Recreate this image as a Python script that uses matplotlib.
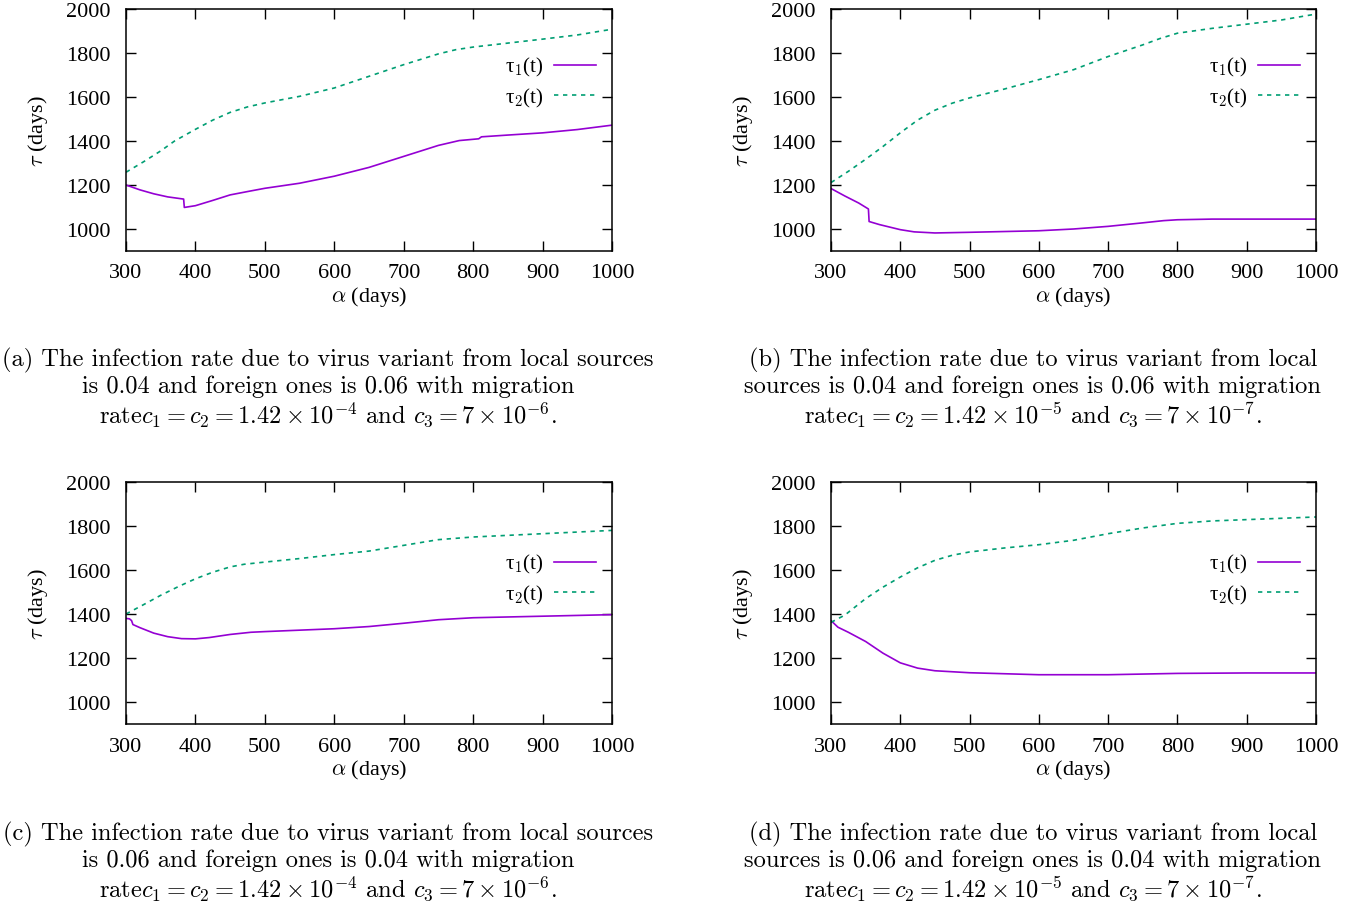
import matplotlib
matplotlib.use("Agg")
import matplotlib.pyplot as plt

plt.rcParams['mathtext.fontset'] = 'cm'
plt.rcParams['font.family'] = ['Liberation Serif', 'DejaVu Serif']

# ---- data ----
# (a)
a_x1 = [300, 320, 340, 360, 383, 384, 400, 425, 450, 478, 500, 550, 600, 650, 700, 750, 780, 808, 812, 850, 900, 950, 1000]
a_t1 = [1200, 1178, 1160, 1146, 1136, 1098, 1106, 1130, 1155, 1172, 1185, 1208, 1240, 1280, 1330, 1380, 1402, 1410, 1419, 1427, 1437, 1452, 1472]
a_x2 = [300, 325, 350, 370, 400, 425, 450, 475, 500, 550, 600, 650, 700, 750, 775, 800, 850, 900, 950, 1000]
a_t2 = [1258, 1305, 1355, 1400, 1453, 1495, 1530, 1555, 1573, 1603, 1641, 1694, 1747, 1796, 1815, 1827, 1845, 1863, 1882, 1908]

# (b)
b_x1 = [300, 320, 340, 354, 355, 370, 400, 420, 450, 500, 600, 650, 700, 750, 780, 800, 850, 900, 1000]
b_t1 = [1184, 1150, 1118, 1091, 1034, 1020, 997, 987, 982, 985, 992, 1000, 1012, 1028, 1038, 1042, 1045, 1045, 1045]
b_x2 = [300, 325, 350, 375, 400, 425, 450, 475, 500, 550, 600, 650, 700, 750, 775, 800, 850, 900, 950, 1000]
b_t2 = [1211, 1262, 1317, 1375, 1437, 1495, 1540, 1572, 1596, 1636, 1679, 1724, 1784, 1837, 1866, 1890, 1912, 1931, 1950, 1977]

# (c)
c_x1 = [300, 305, 308, 310, 320, 340, 360, 380, 400, 420, 450, 480, 500, 600, 650, 700, 750, 800, 900, 1000]
c_t1 = [1380, 1378, 1370, 1352, 1338, 1313, 1297, 1288, 1287, 1293, 1307, 1317, 1320, 1333, 1343, 1358, 1374, 1383, 1390, 1397]
c_x2 = [300, 325, 350, 375, 400, 425, 450, 470, 500, 550, 600, 650, 700, 750, 800, 900, 1000]
c_t2 = [1400, 1442, 1485, 1524, 1560, 1590, 1614, 1626, 1636, 1652, 1670, 1686, 1712, 1738, 1750, 1765, 1780]

# (d)
d_x1 = [300, 310, 325, 350, 375, 400, 425, 450, 500, 600, 700, 800, 900, 1000]
d_t1 = [1370, 1340, 1317, 1275, 1222, 1178, 1154, 1142, 1133, 1124, 1124, 1130, 1132, 1132]
d_x2 = [300, 320, 350, 375, 400, 425, 450, 475, 500, 550, 600, 650, 700, 750, 800, 850, 900, 1000]
d_t2 = [1362, 1395, 1470, 1522, 1568, 1610, 1644, 1667, 1682, 1700, 1715, 1735, 1765, 1791, 1812, 1823, 1829, 1841]

captions = [
    "(a) The infection rate due to virus variant from local sources\n"
    "is 0.04 and foreign ones is 0.06 with migration\n"
    r"rate$c_1 = c_2 = 1.42 \times 10^{-4}$ and $c_3 = 7 \times 10^{-6}$.",
    "(b) The infection rate due to virus variant from local\n"
    "sources is 0.04 and foreign ones is 0.06 with migration\n"
    r"rate$c_1 = c_2 = 1.42 \times 10^{-5}$ and $c_3 = 7 \times 10^{-7}$.",
    "(c) The infection rate due to virus variant from local sources\n"
    "is 0.06 and foreign ones is 0.04 with migration\n"
    r"rate$c_1 = c_2 = 1.42 \times 10^{-4}$ and $c_3 = 7 \times 10^{-6}$.",
    "(d) The infection rate due to virus variant from local\n"
    "sources is 0.06 and foreign ones is 0.04 with migration\n"
    r"rate$c_1 = c_2 = 1.42 \times 10^{-5}$ and $c_3 = 7 \times 10^{-7}$.",
]

panels = [
    (a_x1, a_t1, a_x2, a_t2),
    (b_x1, b_t1, b_x2, b_t2),
    (c_x1, c_t1, c_x2, c_t2),
    (d_x1, d_t1, d_x2, d_t2),
]

PURPLE = '#9400d3'
GREEN = '#009e73'

fig = plt.figure(figsize=(13.65, 9.04), dpi=100)

W, H = 1365.0, 904.0
# axes boxes in pixels: left, top, right, bottom
boxes = [(126, 10, 612, 252), (831, 10, 1316, 252),
         (126, 483, 612, 725), (831, 483, 1316, 725)]
legend_y = [0.698, 0.698, 0.599, 0.599]
caption_pos = [(328, 348), (1033, 348), (328, 822), (1033, 822)]


def draw_panel(ax, x1, t1, x2, t2, ly):
    ax.plot(x1, t1, color=PURPLE, lw=1.2, label=r'τ$_1$(t)')
    ax.plot(x2, t2, color=GREEN, lw=1.2, linestyle=(0, (2.6, 2.8)), label=r'τ$_2$(t)')
    ax.set_xlim(300, 1000)
    ax.set_ylim(900, 2000)
    ax.set_xticks(range(300, 1001, 100))
    ax.set_yticks(range(1000, 2001, 200))
    ax.tick_params(direction='in', length=7, width=1.0, labelsize=16,
                   top=True, right=True)
    ax.tick_params(axis='x', pad=9)
    ax.tick_params(axis='y', pad=11)
    for s in ax.spines.values():
        s.set_linewidth(1.1)
    ax.set_xlabel(r'$\alpha$ (days)', fontsize=16, labelpad=1)
    ax.set_ylabel(r'$\tau$ (days)', fontsize=16, labelpad=12)
    ax.legend(loc='center right', bbox_to_anchor=(1.006, ly), frameon=False,
              markerfirst=False, fontsize=15, handlelength=2.0,
              handletextpad=0.5, labelspacing=0.35)


for i, (x1, t1, x2, t2) in enumerate(panels):
    l, t, r, b = boxes[i]
    ax = fig.add_axes([l / W, 1 - b / H, (r - l) / W, (b - t) / H])
    draw_panel(ax, x1, t1, x2, t2, legend_y[i])
    cx, cy = caption_pos[i]
    fig.text(cx / W, 1 - cy / H, captions[i], ha='center', va='top',
             fontsize=17.6, family='cmr10', linespacing=1.12,
             multialignment='center')

fig.savefig('out.png', dpi=100)
